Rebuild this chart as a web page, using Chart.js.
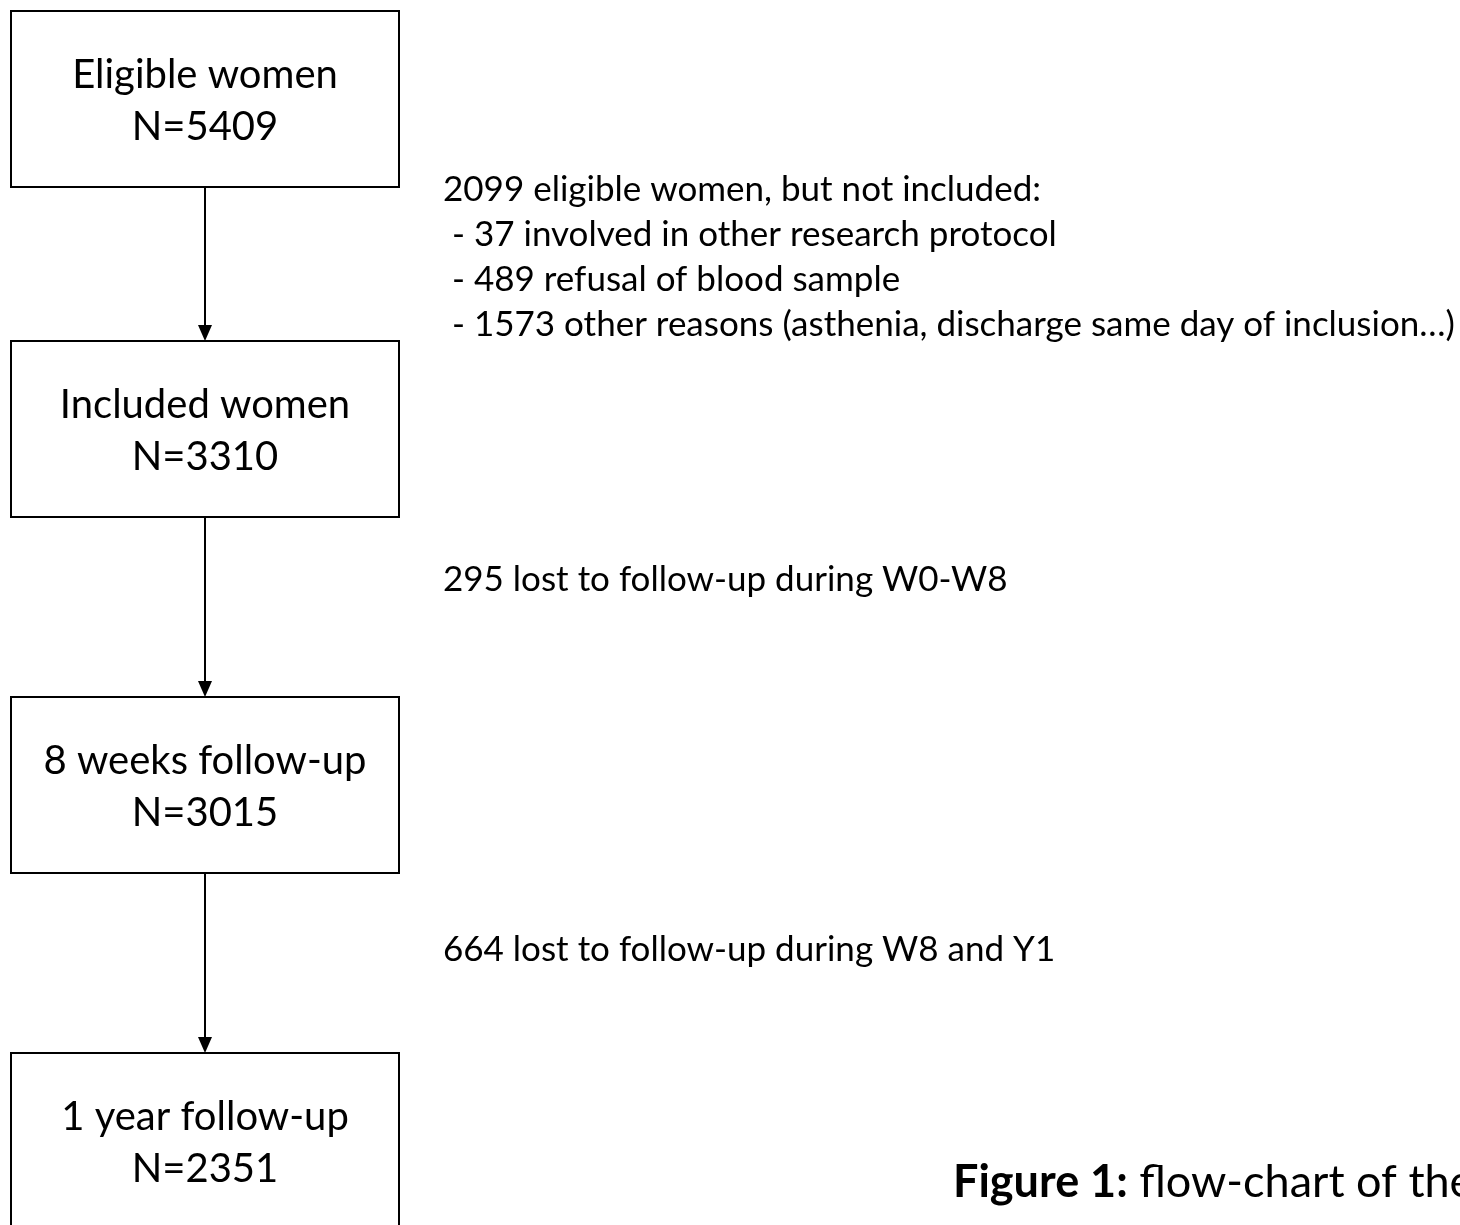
<!DOCTYPE html>
<html>
<head>
<meta charset="utf-8">
<script src="https://cdn.jsdelivr.net/npm/chart.js@4"></script>
<style>
  html, body { margin: 0; padding: 0; background: #fff; }
  #wrap { width: 1460px; height: 1225px; }
</style>
</head>
<body>
<div id="wrap"><canvas id="flow"></canvas></div>
<script>
// stages of the cohort
const stageLabels = ["Eligible women", "Included women", "8 weeks follow-up", "1 year follow-up"];
const stageCounts = [5409, 3310, 3015, 2351];

// notes between stages
const noteHeads = [
  "2099 eligible women, but not included:",
  "295 lost to follow-up during W0-W8",
  "664 lost to follow-up during W8 and Y1"
];
const noteItems = [
  [" - 37 involved in other research protocol",
   " - 489 refusal of blood sample",
   " - 1573 other reasons (asthenia, discharge same day of inclusion…)"],
  [],
  []
];

const captionBold = "Figure 1:";
const captionText = " flow-chart of the study";

// layout (page pixels)
const boxLeft = 11, boxRight = 399, boxH = 176;
const boxTops = [11, 341, 697, 1053];
const noteX = 443;
const noteTops = [190, 580, 950];
const FONT = "Lato, 'Open Sans', sans-serif";

const flowPlugin = {
  id: "flow",
  afterDraw(chart) {
    const ctx = chart.ctx;
    const xs = chart.scales.x, ys = chart.scales.y;
    const px = v => xs.getPixelForValue(v);
    const py = v => ys.getPixelForValue(v);
    ctx.save();
    ctx.strokeStyle = "#000";
    ctx.fillStyle = "#000";
    ctx.lineWidth = 2;

    const cx = px((boxLeft + boxRight) / 2);
    stageLabels.forEach((lab, i) => {
      const top = py(boxTops[i]), bot = py(boxTops[i] + boxH);
      ctx.strokeRect(px(boxLeft), top, px(boxRight) - px(boxLeft), bot - top);
      const mid = (top + bot) / 2;
      ctx.font = "40px " + FONT;
      ctx.textAlign = "center";
      ctx.textBaseline = "middle";
      ctx.fillText(lab, cx, mid - 24);
      ctx.fillText("N=" + stageCounts[i], cx, mid + 28);

      // arrow to next stage
      if (i < stageLabels.length - 1) {
        const tip = py(boxTops[i + 1]);
        ctx.beginPath();
        ctx.moveTo(cx, bot);
        ctx.lineTo(cx, tip - 14);
        ctx.stroke();
        ctx.beginPath();
        ctx.moveTo(cx - 7, tip - 16);
        ctx.lineTo(cx + 7, tip - 16);
        ctx.lineTo(cx, tip);
        ctx.closePath();
        ctx.fill();
      }
    });

    // notes
    ctx.textAlign = "left";
    ctx.textBaseline = "middle";
    ctx.font = "35px " + FONT;
    noteHeads.forEach((h, i) => {
      const lines = [h].concat(noteItems[i]);
      lines.forEach((l, j) => ctx.fillText(l, px(noteX), py(noteTops[i] + j * 45)));
    });

    // caption (runs off the right edge like the source)
    ctx.font = "bold 45px " + FONT;
    const bx = px(953), by = py(1182);
    ctx.fillText(captionBold, bx, by);
    const w = ctx.measureText(captionBold).width;
    ctx.font = "45px " + FONT;
    ctx.fillText(captionText, bx + w, by);
    ctx.restore();
  }
};

new Chart(document.getElementById("flow").getContext("2d"), {
  type: "scatter",
  data: { datasets: [{ data: [], pointRadius: 0 }] },
  options: {
    responsive: true,
    maintainAspectRatio: false,
    animation: false,
    layout: { padding: 0 },
    plugins: { legend: { display: false }, tooltip: { enabled: false } },
    scales: {
      x: { type: "linear", min: 0, max: 1460, display: false },
      y: { type: "linear", min: 0, max: 1225, reverse: true, display: false }
    }
  },
  plugins: [flowPlugin]
});
</script>
</body>
</html>
